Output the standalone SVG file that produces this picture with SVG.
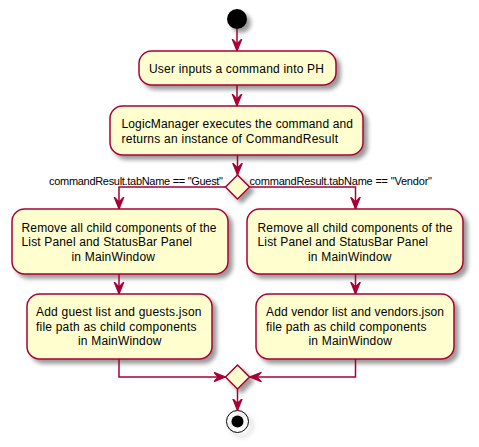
<svg xmlns="http://www.w3.org/2000/svg" width="479" height="447" viewBox="0 0 479 447">
<style>
.act{fill:#FEFECE;stroke:#A80036;stroke-width:1.5;filter:url(#sh)}
.t{font-family:"Liberation Sans",Arial,sans-serif;font-size:12px;fill:#000}
.l{font-family:"Liberation Sans",Arial,sans-serif;font-size:11px;fill:#000}
.c{fill:none;stroke:#A80036;stroke-width:1.5}
</style>
<defs>
<filter id="sh" x="-1" y="-1" width="300%" height="300%">
<feGaussianBlur stdDeviation="2" result="b"/>
<feColorMatrix in="b" type="matrix" values="0 0 0 0 0 0 0 0 0 0 0 0 0 0 0 0 0 0 .4 0" result="b2"/>
<feOffset in="b2" dx="4" dy="4" result="b3"/>
<feBlend in="SourceGraphic" in2="b3" mode="normal"/>
</filter>
<marker id="ah" markerUnits="userSpaceOnUse" markerWidth="12" markerHeight="12" viewBox="0 0 10 8" refX="10" refY="4" orient="auto">
<path d="M0,0 L10,4 L0,8 L4,4 z" fill="#A80036" stroke="#A80036" stroke-width="1"/>
</marker>
</defs>

<g id="start"><circle cx="237" cy="19" r="10" fill="#000" filter="url(#sh)"/></g>

<g id="n1"><rect class="act" x="139" y="51" width="197" height="34" rx="12.5"/>
<text class="t" x="149" y="73" textLength="175">User inputs a command into PH</text></g>

<g id="n2"><rect class="act" x="110" y="106" width="253" height="49" rx="12.5"/>
<text class="t" x="121.5" y="128" textLength="231.5">LogicManager executes the command and</text>
<text class="t" x="121.5" y="143" textLength="216.5">returns an instance of CommandResult</text></g>

<g id="d1"><polygon class="act" points="237.5,175 249.5,187 237.5,199 225.5,187"/></g>

<g id="n3"><rect class="act" x="12" y="209" width="216" height="65" rx="12.5"/>
<text class="t" x="21.5" y="231.5" textLength="195">Remove all child components of the</text>
<text class="t" x="21.5" y="246" textLength="170.5">List Panel and StatusBar Panel</text>
<text class="t" x="71.5" y="260.5" textLength="83.5">in MainWindow</text></g>

<g id="n4"><rect class="act" x="247" y="209" width="216" height="65" rx="12.5"/>
<text class="t" x="257.5" y="231.5" textLength="195">Remove all child components of the</text>
<text class="t" x="257.5" y="246" textLength="170.5">List Panel and StatusBar Panel</text>
<text class="t" x="308" y="260.5" textLength="83.5">in MainWindow</text></g>

<g id="n5"><rect class="act" x="27" y="294" width="185" height="65" rx="12.5"/>
<text class="t" x="36" y="316" textLength="165.5">Add guest list and guests.json</text>
<text class="t" x="36" y="330.5" textLength="160.5">file path as child components</text>
<text class="t" x="78" y="345" textLength="83.5">in MainWindow</text></g>

<g id="n6"><rect class="act" x="256" y="294" width="198" height="65" rx="12.5"/>
<text class="t" x="266" y="316" textLength="178">Add vendor list and vendors.json</text>
<text class="t" x="266" y="330.5" textLength="160.5">file path as child components</text>
<text class="t" x="308.5" y="345" textLength="83.5">in MainWindow</text></g>

<g id="d2"><polygon class="act" points="237.5,365 249.5,377 237.5,389 225.5,377"/></g>

<g id="end"><circle cx="237.5" cy="421.5" r="11" fill="none" stroke="#000" stroke-width="1" filter="url(#sh)"/><circle cx="237.5" cy="421.5" r="6" fill="#000"/></g>

<g id="connectors">
<line class="c" x1="237" y1="29" x2="237" y2="51" marker-end="url(#ah)"/>
<line class="c" x1="237" y1="85" x2="237" y2="106" marker-end="url(#ah)"/>
<line class="c" x1="237.5" y1="155" x2="237.5" y2="175" marker-end="url(#ah)"/>
<polyline class="c" points="225.5,187 119,187 119,209" marker-end="url(#ah)"/>
<polyline class="c" points="249.5,187 355.5,187 355.5,209" marker-end="url(#ah)"/>
<text class="l" x="223" y="185" text-anchor="end" textLength="174">commandResult.tabName == "Guest"</text>
<text class="l" x="249.5" y="185" textLength="182.5">commandResult.tabName == "Vendor"</text>
<line class="c" x1="119" y1="274" x2="119" y2="294" marker-end="url(#ah)"/>
<line class="c" x1="355.5" y1="274" x2="355.5" y2="294" marker-end="url(#ah)"/>
<polyline class="c" points="119,359 119,377 225.5,377" marker-end="url(#ah)"/>
<polyline class="c" points="355.5,359 355.5,377 249.5,377" marker-end="url(#ah)"/>
<line class="c" x1="237.5" y1="389" x2="237.5" y2="410.5" marker-end="url(#ah)"/>
</g>
</svg>
